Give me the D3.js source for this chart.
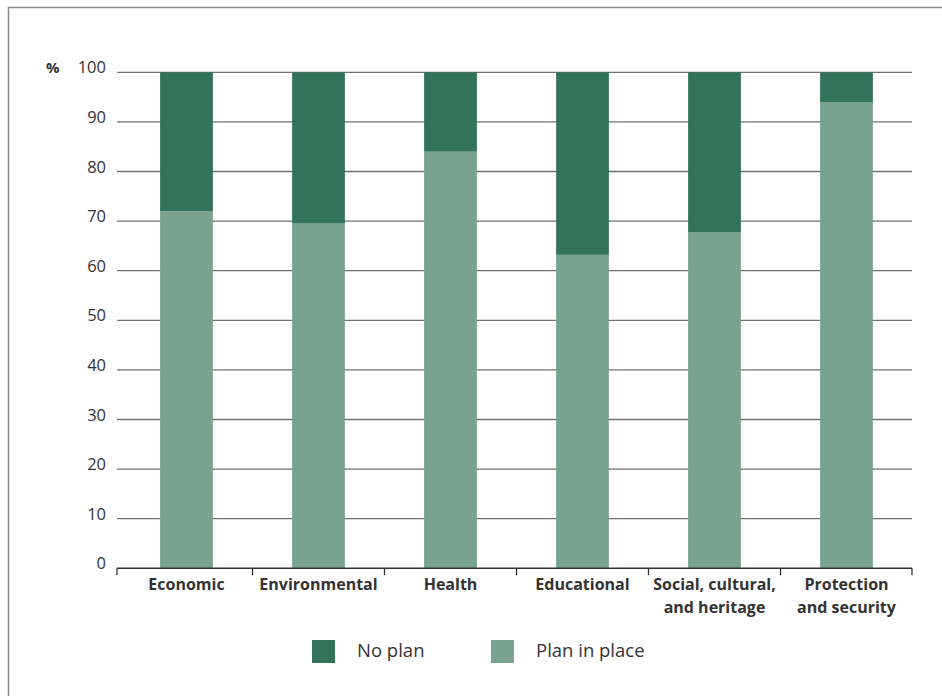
<!DOCTYPE html>
<html>
<head>
<meta charset="utf-8">
<script src="https://cdn.jsdelivr.net/npm/d3@7"></script>
<style>
  html, body { margin: 0; padding: 0; background: #fff; }
  svg { display: block; }
  text { font-family: "Open Sans", "Noto Sans", sans-serif; fill: #333; }
</style>
</head>
<body>
<svg id="chart" width="942" height="696"></svg>
<script>
const categories = ["Economic", "Environmental", "Health", "Educational", "Social, cultural,|and heritage", "Protection|and security"];
const planInPlace = [72, 69.5, 84, 63.2, 67.8, 94];
const noPlan = planInPlace.map(v => 100 - v);
const seriesNames = ["No plan", "Plan in place"];
const seriesColors = ["#33735b", "#79a38f"];
const yTicks = [0, 10, 20, 30, 40, 50, 60, 70, 80, 90, 100];

const svg = d3.select("#chart");

// frame
svg.append("path")
  .attr("d", "M8.5,696 L8.5,7.5 L942,7.5")
  .attr("fill", "none")
  .attr("stroke", "#8a8a8a")
  .attr("stroke-width", 1.5);

const axisLeft = 117, axisRight = 912;
const y = d3.scaleLinear().domain([0, 100]).range([568.3, 72.3]);
const x = d3.scaleBand().domain(categories).range([120.5, 912.5])
  .paddingInner(0.6).paddingOuter(0.3);

// gridlines
svg.append("g").selectAll("line")
  .data(yTicks.filter(d => d > 0))
  .join("line")
  .attr("x1", axisLeft).attr("x2", axisRight)
  .attr("y1", d => y(d)).attr("y2", d => y(d))
  .attr("stroke", "#6f6f6f")
  .attr("stroke-width", 1.3);

// y labels
svg.append("g").selectAll("text")
  .data(yTicks)
  .join("text")
  .attr("x", 106)
  .attr("y", d => y(d) + 1)
  .attr("text-anchor", "end")
  .attr("font-size", 16.5)
  .text(d => d);

svg.append("text")
  .attr("x", 46).attr("y", y(100) + 1)
  .attr("font-size", 15).attr("font-weight", "bold")
  .text("%");

// stacked bars
const stackData = categories.map((c, i) => ({ cat: c, plan: planInPlace[i], none: noPlan[i] }));
const stack = d3.stack().keys(["plan", "none"])(stackData);
const colorFor = { plan: seriesColors[1], none: seriesColors[0] };

svg.append("g").selectAll("g")
  .data(stack)
  .join("g")
  .attr("fill", d => colorFor[d.key])
  .selectAll("rect")
  .data(d => d)
  .join("rect")
  .attr("x", d => x(d.data.cat))
  .attr("width", x.bandwidth())
  .attr("y", d => y(d[1]))
  .attr("height", d => y(d[0]) - y(d[1]));

// x axis line
svg.append("line")
  .attr("x1", axisLeft).attr("x2", axisRight)
  .attr("y1", y(0)).attr("y2", y(0))
  .attr("stroke", "#333").attr("stroke-width", 1.5);

// x tick marks at category boundaries
const step = x.step();
const bounds = [axisLeft].concat(categories.map(c => x(c) + x.bandwidth() / 2 + step / 2));
bounds[bounds.length - 1] = axisRight;
svg.append("g").selectAll("line")
  .data(bounds)
  .join("line")
  .attr("x1", d => d).attr("x2", d => d)
  .attr("y1", y(0)).attr("y2", y(0) + 7)
  .attr("stroke", "#333").attr("stroke-width", 1.3);

// category labels
const labels = svg.append("g").selectAll("text")
  .data(categories)
  .join("text")
  .attr("x", d => x(d) + x.bandwidth() / 2)
  .attr("y", 590)
  .attr("text-anchor", "middle")
  .attr("font-size", 16)
  .attr("font-weight", "bold");
labels.each(function(d) {
  const parts = d.split("|");
  const t = d3.select(this);
  parts.forEach((p, i) => {
    t.append("tspan")
      .attr("x", x(d) + x.bandwidth() / 2)
      .attr("dy", i === 0 ? 0 : 23)
      .text(p);
  });
});

// legend
const legendX = [312, 491];
const lg = svg.append("g").selectAll("g")
  .data(seriesNames)
  .join("g")
  .attr("transform", (d, i) => `translate(${legendX[i]},640)`);
lg.append("rect")
  .attr("width", 23).attr("height", 23)
  .attr("fill", (d, i) => seriesColors[i]);
lg.append("text")
  .attr("x", 45).attr("y", 17)
  .attr("font-size", 18.5)
  .text(d => d);
</script>
</body>
</html>
